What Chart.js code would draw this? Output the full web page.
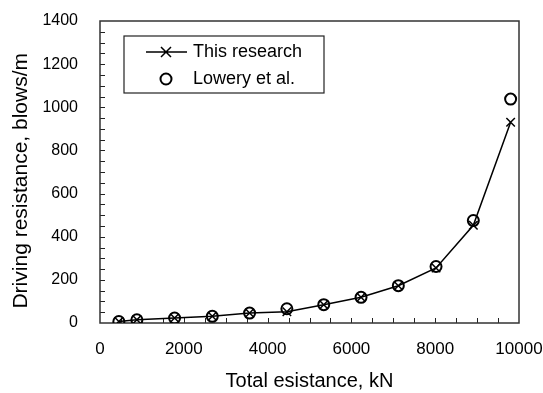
<!DOCTYPE html>
<html lang="en">
<head>
<meta charset="UTF-8" />
<title>Driving resistance</title>
<script src="https://cdn.jsdelivr.net/npm/chart.js"></script>
<style>
  html, body { margin: 0; padding: 0; background: #fff; }
</style>
</head>
<body>
<canvas id="myChart" width="543" height="393"></canvas>
<script>
// total resistance (kN) for each point
const totalResistance = [450, 880, 1780, 2680, 3570, 4460, 5340, 6230, 7120, 8020, 8910, 9800];
// driving resistance (blows/m)
const thisResearch = [7, 15, 23, 31, 46, 52, 85, 119, 173, 255, 453, 931];
const loweryEtAl = [7, 15, 23, 31, 46, 66, 85, 119, 173, 262, 475, 1038];

const legendLabels = ["This research", "Lowery et al."];
const xTitle = "Total esistance, kN";
const yTitle = "Driving resistance, blows/m";

const FONT = "'Liberation Sans', Arial, sans-serif";

// frame + small inward ticks, like the original excel-ish plot
const frameTicks = {
  id: "frameTicks",
  beforeDatasetsDraw(chart) {
    const { ctx, chartArea: a, scales } = chart;
    ctx.save();
    ctx.strokeStyle = "#222";
    ctx.lineWidth = 1;
    ctx.beginPath();
    for (let v = 500; v < 10000; v += 500) {
      const px = Math.round(scales.x.getPixelForValue(v)) + 0.5;
      ctx.moveTo(px, a.bottom);
      ctx.lineTo(px, a.bottom - 5);
    }
    for (let v = 50; v < 1400; v += 50) {
      const py = Math.round(scales.y.getPixelForValue(v)) + 0.5;
      ctx.moveTo(a.left, py);
      ctx.lineTo(a.left + 5, py);
    }
    ctx.stroke();
    ctx.lineWidth = 1.5;
    ctx.strokeStyle = "#333";
    ctx.strokeRect(a.left, a.top, a.right - a.left, a.bottom - a.top);
    ctx.restore();
  },
};

// legend box inside the plot
const boxLegend = {
  id: "boxLegend",
  afterDraw(chart) {
    const { ctx, chartArea: a } = chart;
    const bx = a.left + 24, by = a.top + 15, bw = 200, bh = 57;
    ctx.save();
    ctx.fillStyle = "#fff";
    ctx.fillRect(bx, by, bw, bh);
    ctx.strokeStyle = "#222";
    ctx.lineWidth = 1.2;
    ctx.strokeRect(bx, by, bw, bh);

    const y1 = by + 16, y2 = by + 43;
    ctx.lineWidth = 1.5;
    ctx.strokeStyle = "#000";
    ctx.beginPath();
    ctx.moveTo(bx + 22, y1);
    ctx.lineTo(bx + 63, y1);
    const cx = bx + 42, r = 5;
    ctx.moveTo(cx - r, y1 - r); ctx.lineTo(cx + r, y1 + r);
    ctx.moveTo(cx + r, y1 - r); ctx.lineTo(cx - r, y1 + r);
    ctx.stroke();

    ctx.lineWidth = 2;
    ctx.beginPath();
    ctx.arc(bx + 42, y2, 5.5, 0, Math.PI * 2);
    ctx.stroke();

    ctx.fillStyle = "#000";
    ctx.font = "18px " + FONT;
    ctx.textBaseline = "middle";
    ctx.fillText(legendLabels[0], bx + 69, y1);
    ctx.fillText(legendLabels[1], bx + 69, y2);
    ctx.restore();
  },
};

const config = {
  type: "scatter",
  data: {
    datasets: [
      {
        label: legendLabels[0],
        data: totalResistance.map((x, i) => ({ x: x, y: thisResearch[i] })),
        showLine: true,
        borderColor: "#000",
        borderWidth: 1.5,
        pointStyle: "crossRot",
        pointRadius: 6,
        pointBorderWidth: 1.5,
        pointBorderColor: "#000",
        pointBackgroundColor: "#000",
      },
      {
        label: legendLabels[1],
        data: totalResistance.map((x, i) => ({ x: x, y: loweryEtAl[i] })),
        showLine: false,
        pointStyle: "circle",
        pointRadius: 5.5,
        pointBorderWidth: 2,
        pointBorderColor: "#000",
        pointBackgroundColor: "rgba(0,0,0,0)",
      },
    ],
  },
  options: {
    responsive: false,
    animation: false,
    events: [],
    layout: { padding: { top: 21, right: 24, left: 0, bottom: 0 } },
    plugins: {
      legend: { display: false },
      tooltip: { enabled: false },
    },
    scales: {
      x: {
        type: "linear",
        min: 0,
        max: 10000,
        afterFit: (s) => {
          s.height = 70;
          s.paddingLeft = 0;
          s.paddingRight = 0;
        },
        grid: { display: false, drawTicks: false },
        border: { display: false },
        ticks: {
          stepSize: 2000,
          padding: 16,
          color: "#000",
          font: { family: FONT, size: 17 },
          maxRotation: 0,
          callback: (v) => String(v),
        },
        title: {
          display: true,
          text: xTitle,
          color: "#000",
          font: { family: FONT, size: 20 },
          padding: { top: 0, bottom: 0 },
        },
      },
      y: {
        min: 0,
        max: 1400,
        afterFit: (s) => {
          s.width = 100;
          s.paddingTop = 0;
          s.paddingBottom = 0;
        },
        grid: { display: false, drawTicks: false },
        border: { display: false },
        ticks: {
          stepSize: 200,
          padding: 22,
          color: "#000",
          font: { family: FONT, size: 16 },
          callback: (v) => String(v),
        },
        title: {
          display: true,
          // trailing spaces nudge the rotated title a bit lower, as in the scan
          text: yTitle + "   ",
          color: "#000",
          font: { family: FONT, size: 21 },
          padding: { top: 9, bottom: 0 },
        },
      },
    },
  },
  plugins: [frameTicks, boxLegend],
};

new Chart(document.getElementById("myChart"), config);
</script>
</body>
</html>
